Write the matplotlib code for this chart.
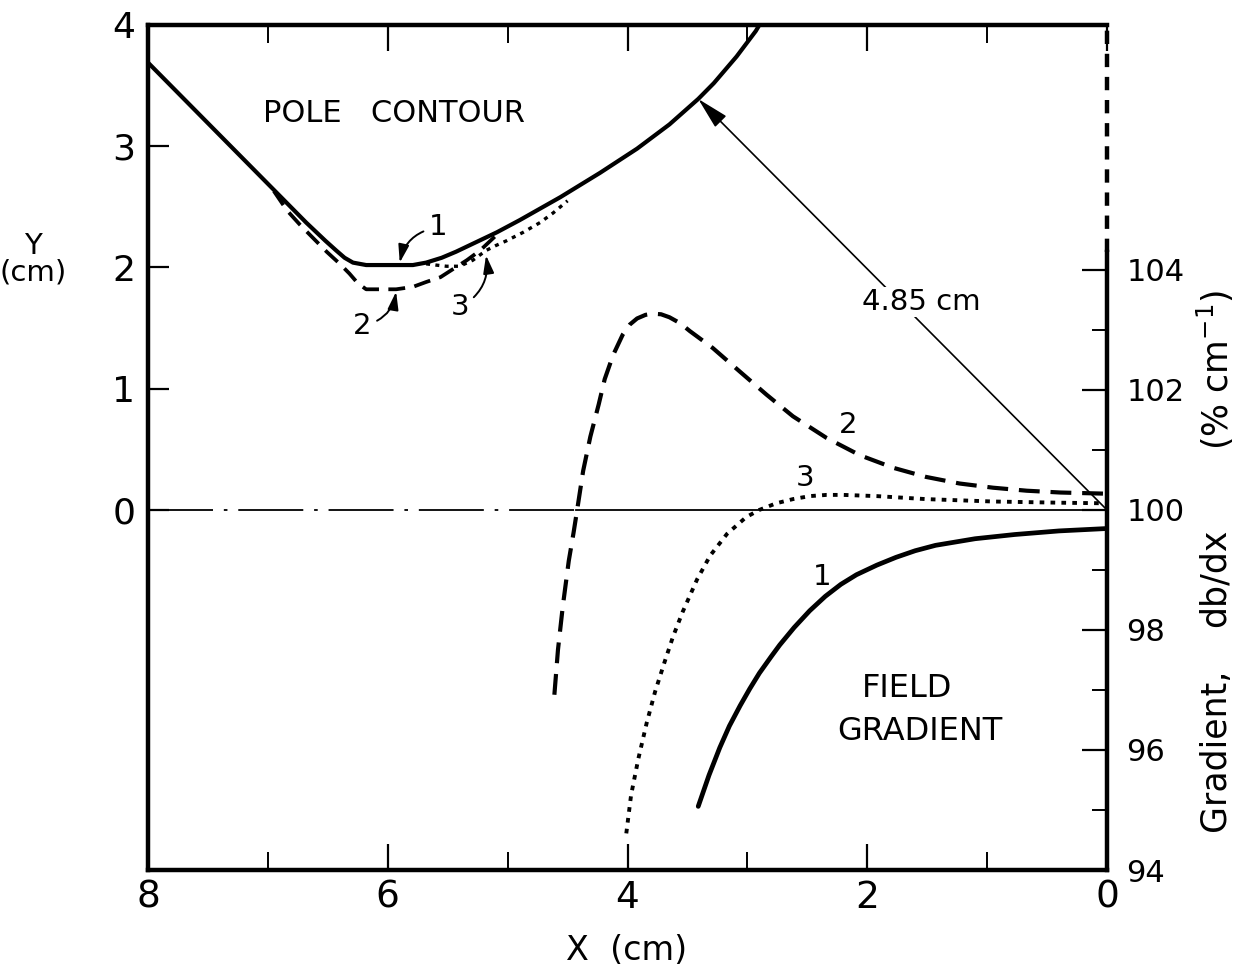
import matplotlib
matplotlib.use("Agg")
import matplotlib.pyplot as plt
from matplotlib.ticker import FixedLocator

plt.rcParams['font.family'] = ['DejaVu Sans']
plt.rcParams['mathtext.default'] = 'regular'

# ---------------- data ----------------
# Pole contours (left axis, Y in cm)
contour1_x = [8.0, 7.6, 7.23, 6.95, 6.68, 6.52, 6.43, 6.36, 6.29, 6.18, 6.0, 5.79, 5.68, 5.55,
              5.43, 5.26, 5.09, 4.90, 4.56, 4.23, 3.92, 3.65, 3.41, 3.28, 3.09, 2.93, 2.90]
contour1_y = [3.69, 3.29, 2.92, 2.64, 2.37, 2.22, 2.14, 2.08, 2.04, 2.02, 2.02, 2.02, 2.04, 2.08,
              2.13, 2.21, 2.29, 2.39, 2.58, 2.78, 2.98, 3.18, 3.39, 3.52, 3.74, 3.95, 4.0]

contour2_x = [6.95, 6.84, 6.73, 6.62, 6.51, 6.40, 6.32, 6.25, 6.18, 6.05, 5.93, 5.79, 5.68, 5.56, 5.45,
              5.34, 5.23, 5.09]
contour2_y = [2.63, 2.47, 2.35, 2.24, 2.13, 2.03, 1.95, 1.87, 1.82, 1.82, 1.82, 1.84, 1.88, 1.92, 1.99,
              2.06, 2.14, 2.27]

contour3_x = [5.68, 5.60, 5.51, 5.40, 5.29, 5.18, 5.10, 5.01, 4.87, 4.73, 4.62, 4.50]
contour3_y = [2.03, 2.02, 2.01, 2.01, 2.06, 2.14, 2.18, 2.22, 2.29, 2.37, 2.45, 2.55]

# Field gradient curves (right axis, % per cm)
grad1_x = [3.41, 3.32, 3.23, 3.15, 3.06, 2.98, 2.90, 2.80, 2.73, 2.61, 2.48, 2.35, 2.22, 2.09,
           1.92, 1.76, 1.60, 1.43, 1.10, 0.77, 0.40, 0.0]
grad1_y = [95.06, 95.58, 96.04, 96.40, 96.74, 97.02, 97.28, 97.56, 97.75, 98.04, 98.32, 98.56,
           98.76, 98.92, 99.08, 99.21, 99.32, 99.41, 99.52, 99.59, 99.65, 99.69]

grad2_x = [4.61, 4.58, 4.54, 4.49, 4.45, 4.42, 4.37, 4.31, 4.24, 4.19, 4.12, 4.04, 3.98, 3.92,
           3.85, 3.79, 3.72, 3.65, 3.56, 3.48, 3.29, 3.06, 2.84, 2.62, 2.34, 2.06, 1.78, 1.51, 1.23,
           0.95, 0.67, 0.39, 0.0]
grad2_y = [96.92, 97.67, 98.39, 99.15, 99.62, 100.0, 100.65, 101.22, 101.76, 102.18, 102.58,
           102.92, 103.09, 103.19, 103.25, 103.27, 103.26, 103.21, 103.11, 102.98, 102.70, 102.30,
           101.92, 101.56, 101.20, 100.91, 100.70, 100.55, 100.44, 100.37, 100.32, 100.29, 100.27]

grad3_x = [4.01, 3.97, 3.91, 3.84, 3.77, 3.69, 3.62, 3.54, 3.42, 3.31, 3.17, 3.01, 2.90, 2.76,
           2.62, 2.48, 2.34, 2.20, 1.92, 1.51, 0.95, 0.39, 0.0]
grad3_y = [94.61, 95.25, 95.85, 96.45, 96.97, 97.47, 97.89, 98.30, 98.84, 99.24, 99.60, 99.88,
           100.0, 100.11, 100.18, 100.23, 100.25, 100.25, 100.23, 100.18, 100.14, 100.12, 100.11]

x_ticks_major = [0, 2, 4, 6, 8]
x_ticks_minor = [1, 3, 5, 7]
x_tick_labels = ['0', '2', '4', '6', '8']
y_left_ticks = [0, 1, 2, 3, 4]
y_left_labels = ['0', '1', '2', '3', '4']
y_right_major = [94, 96, 98, 100, 102, 104]
y_right_minor = [95, 97, 99, 101, 103]
y_right_labels = ['94', '96', '98', '100', '102', '104']

radius_label = '4.85 cm'
radius_point = (3.41, 3.39)
zero_dashdot_end = 4.43   # where the centre line turns solid

# ---------------- figure ----------------
fig = plt.figure(figsize=(12.46, 9.76), dpi=100)
ax = fig.add_axes([148/1246, 1-870/976, (1107-148)/1246, (870-25)/976])
ax2 = ax.twinx()

ax.set_xlim(8, 0)
ax.set_ylim(-2.97, 4.0)
ax2.set_ylim(94.0, 108.08)

ink = 'black'
lw_main = 3.0

# pole contours
ax.plot(contour1_x, contour1_y, color=ink, lw=lw_main, solid_capstyle='round', solid_joinstyle='round')
ax.plot(contour2_x, contour2_y, color=ink, lw=lw_main * 0.9, ls=(0, (4.5, 2.5)))
ax.plot(contour3_x, contour3_y, color=ink, lw=lw_main * 0.8, ls=(0, (1.2, 1.6)))

# centre line: dash-dot then solid
ax.plot([8, zero_dashdot_end], [0, 0], color=ink, lw=1.3, ls=(0, (36, 6, 2, 6)))
ax.plot([zero_dashdot_end, 0], [0, 0], color=ink, lw=1.3)

# gradient curves
ax2.plot(grad1_x, grad1_y, color=ink, lw=3.4, solid_capstyle='round', solid_joinstyle='round')
ax2.plot(grad2_x, grad2_y, color=ink, lw=3.0, ls=(0, (5, 2.6)))
ax2.plot(grad3_x, grad3_y, color=ink, lw=2.8, ls=(0, (1.2, 1.6)))

# radius arrow
ax.annotate('', xy=radius_point, xytext=(0, 0),
            arrowprops=dict(arrowstyle='-|>,head_length=0.9,head_width=0.22', lw=1.2,
                            color=ink, shrinkA=0, shrinkB=0, mutation_scale=22))
ax.text(1.545, 1.715, radius_label, fontsize=21, ha='center', va='center',
        bbox=dict(facecolor='white', edgecolor='none', pad=1.0))

# curve labels on contours with curved arrows
arr = dict(arrowstyle='-|>,head_length=0.6,head_width=0.18', lw=1.4, color=ink,
           shrinkA=2, shrinkB=0, mutation_scale=18)
ax.annotate('1', xy=(5.90, 2.04), xytext=(5.58, 2.33), fontsize=21, ha='center', va='center',
            arrowprops=dict(arr, connectionstyle='arc3,rad=0.35'))
ax.annotate('2', xy=(5.93, 1.80), xytext=(6.21, 1.52), fontsize=21, ha='center', va='center',
            arrowprops=dict(arr, connectionstyle='arc3,rad=0.35'))
ax.annotate('3', xy=(5.18, 2.10), xytext=(5.40, 1.67), fontsize=21, ha='center', va='center',
            arrowprops=dict(arr, connectionstyle='arc3,rad=0.35'))

# labels on gradient curves
ax2.text(2.16, 101.42, '2', fontsize=21, ha='center', va='center')
ax2.text(2.52, 100.53, '3', fontsize=21, ha='center', va='center')
ax2.text(2.38, 98.89, '1', fontsize=21, ha='center', va='center')

ax.text(0.256, 0.895, 'POLE   CONTOUR', transform=ax.transAxes, fontsize=22,
        ha='center', va='center')
ax.text(0.792, 0.215, 'FIELD', transform=ax.transAxes, fontsize=23, ha='center', va='center')
ax.text(0.805, 0.164, 'GRADIENT', transform=ax.transAxes, fontsize=23, ha='center', va='center')

# ---------------- axes styling ----------------
for s in ['left', 'top', 'bottom']:
    ax.spines[s].set_linewidth(3.2)
    ax2.spines[s].set_visible(False)
ax.spines['right'].set_visible(False)
ax2.spines['right'].set_linewidth(3.2)
ax2.spines['right'].set_bounds(94.0, 104.3)
ax2.axvline(0, ymin=(104.3 - 94.0) / (108.08 - 94.0), ymax=1.0, color=ink, lw=3.2,
            ls=(0, (3, 2.2)), clip_on=False)

ax.xaxis.set_major_locator(FixedLocator(x_ticks_major))
ax.xaxis.set_minor_locator(FixedLocator(x_ticks_minor))
ax.set_xticklabels(x_tick_labels)
ax.tick_params(axis='x', which='major', direction='in', length=19, width=1.6, top=True,
               bottom=True, labelsize=27, pad=7)
ax.tick_params(axis='x', which='minor', direction='in', length=13, width=1.4, top=True,
               bottom=True)

ax.set_yticks(y_left_ticks)
ax.set_yticklabels(y_left_labels)
ax.tick_params(axis='y', which='major', direction='in', length=15, width=1.6, left=True,
               right=False, labelsize=26, pad=9)

ax2.yaxis.set_major_locator(FixedLocator(y_right_major))
ax2.yaxis.set_minor_locator(FixedLocator(y_right_minor))
ax2.set_yticklabels(y_right_labels)
ax2.tick_params(axis='y', which='major', direction='in', length=18, width=1.6, labelsize=22,
                pad=14)
ax2.tick_params(axis='y', which='minor', direction='in', length=11, width=1.4)

fig.text(33/1246, 1-246/976, 'Y', fontsize=21, ha='center', va='center')
fig.text(33/1246, 1-273/976, '(cm)', fontsize=21, ha='center', va='center')
fig.text(627/1246, 1-950/976, 'X  (cm)', fontsize=24, ha='center', va='center')
fig.text(1215/1246, 1-750/976, 'Gradient,', fontsize=25, rotation=90, ha='center', va='center')
fig.text(1215/1246, 1-578/976, 'db/dx', fontsize=25, rotation=90, ha='center', va='center')
fig.text(1215/1246, 1-370/976, '(% cm$^{-1}$)', fontsize=25, rotation=90, ha='center',
         va='center')

fig.savefig('out.png', dpi=100, facecolor='white')
